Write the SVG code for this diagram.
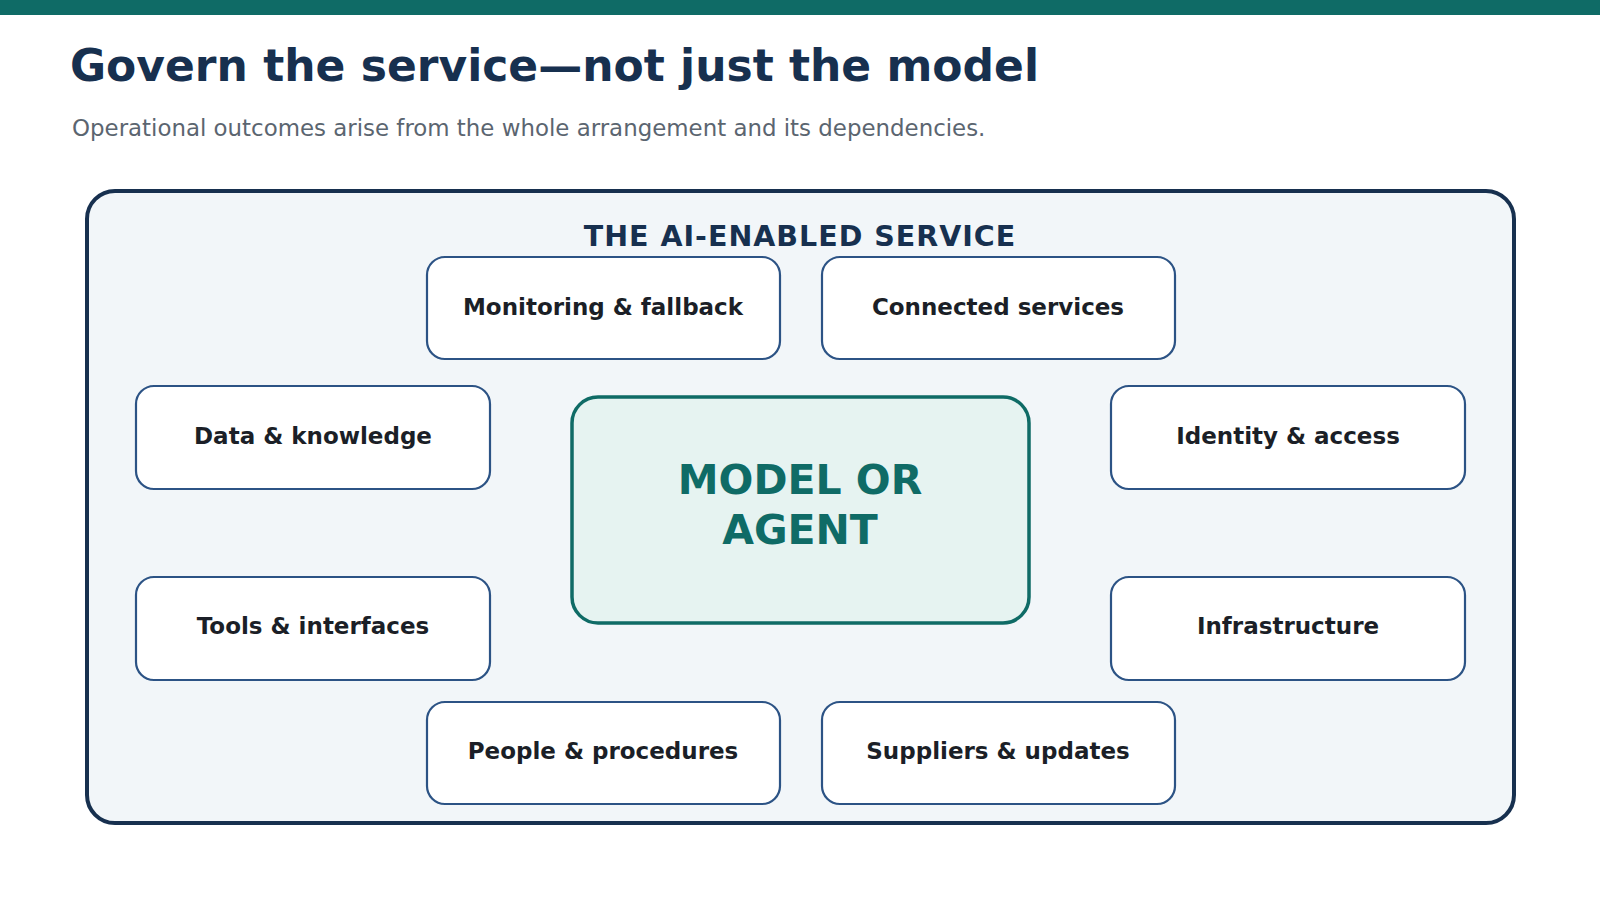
<svg xmlns="http://www.w3.org/2000/svg" width="1600" height="900" viewBox="0 0 1600 900">
<style>
text{font-family:"DejaVu Sans",sans-serif}
.n rect{fill:#fff;stroke:#2c5385;stroke-width:2.2}
.n text{font-size:23px;font-weight:bold;fill:#1b1f27;text-anchor:middle}
</style>
<rect width="1600" height="900" fill="#fff"/>
<rect width="1600" height="15" fill="#0f6b66"/>
<text x="70" y="81" font-size="44" font-weight="bold" fill="#17304f">Govern the service—not just the model</text>
<text x="72" y="136" font-size="22.9" fill="#5b6570">Operational outcomes arise from the whole arrangement and its dependencies.</text>
<g id="service">
<rect x="87" y="191" width="1427" height="632" rx="28" fill="#f2f6f9" stroke="#17304f" stroke-width="4"/>
<text x="800" y="246" font-size="28.5" font-weight="bold" fill="#17304f" text-anchor="middle" letter-spacing="1">THE AI-ENABLED SERVICE</text>
</g>
<g id="connectors"></g>
<g id="center">
<rect x="572" y="397" width="457" height="226" rx="26" fill="#e6f3f1" stroke="#0f6b66" stroke-width="3.5"/>
<text x="800" y="494" font-size="41" font-weight="bold" fill="#0f6b66" text-anchor="middle">MODEL OR</text>
<text x="800" y="544" font-size="41" font-weight="bold" fill="#0f6b66" text-anchor="middle">AGENT</text>
</g>
<g id="monitoring" class="n"><rect x="427" y="257" width="353" height="102" rx="18"/><text x="603" y="315">Monitoring &amp; fallback</text></g>
<g id="connected" class="n"><rect x="822" y="257" width="353" height="102" rx="18"/><text x="998" y="315">Connected services</text></g>
<g id="data" class="n"><rect x="136" y="386" width="354" height="103" rx="18"/><text x="313" y="444">Data &amp; knowledge</text></g>
<g id="identity" class="n"><rect x="1111" y="386" width="354" height="103" rx="18"/><text x="1288" y="444">Identity &amp; access</text></g>
<g id="tools" class="n"><rect x="136" y="577" width="354" height="103" rx="18"/><text x="313" y="634">Tools &amp; interfaces</text></g>
<g id="infra" class="n"><rect x="1111" y="577" width="354" height="103" rx="18"/><text x="1288" y="634">Infrastructure</text></g>
<g id="people" class="n"><rect x="427" y="702" width="353" height="102" rx="18"/><text x="603" y="759">People &amp; procedures</text></g>
<g id="suppliers" class="n"><rect x="822" y="702" width="353" height="102" rx="18"/><text x="998" y="759">Suppliers &amp; updates</text></g>
</svg>
